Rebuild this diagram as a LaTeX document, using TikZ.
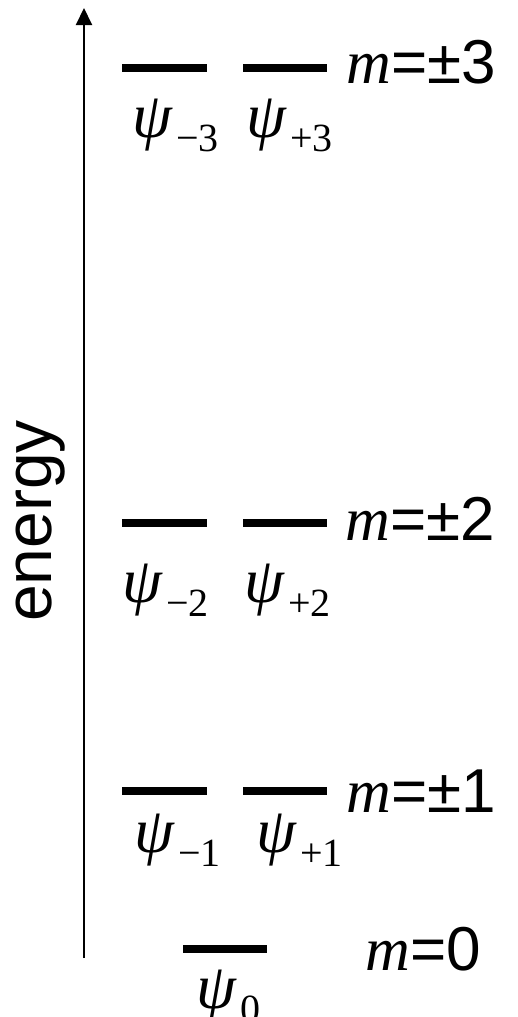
\documentclass[tikz,border=0pt]{standalone}
\usepackage{fontspec}
\setmainfont{Liberation Sans}
\newfontfamily\serif{Liberation Serif}
\usetikzlibrary{arrows.meta}
\tikzset{
  level bar/.style={line width=4pt},
  wf label/.style={
    anchor=base west, inner sep=0pt,
    font=\fontsize{32}{32}\selectfont
  },
  m label/.style={
    anchor=base west, inner sep=0pt,
    font=\fontsize{31}{31}\selectfont
  },
  axis arrow/.style={
    line width=1pt, -{Triangle[width=8pt,length=8.5pt]}
  }
}
\newcommand{\wfn}[1]{{\serif\itshape ψ}\kern2pt\raisebox{-7pt}{\serif\fontsize{20}{20}\selectfont #1}}
\newcommand{\mval}[1]{{\serif\itshape m}=#1}

\begin{document}
\begin{tikzpicture}[x=0.5pt, y=-0.5pt]
  \useasboundingbox (0,0) rectangle (518,1017);

  % energy axis
  \coordinate (axis base) at (84,958);
  \coordinate (axis top) at (84,8);
  \draw [axis arrow] (axis base) -- (axis top);
  \node (energy) [rotate=90, font=\fontsize{33}{33}\selectfont] at (41,521) {energy};

  % m = +-3
  \draw [level bar] (122,68) -- (207,68);
  \draw [level bar] (243,68) -- (327,68);
  \node (wm3) [wf label] at (132,137) {\wfn{−3}};
  \node (wp3) [wf label] at (246,137) {\wfn{+3}};
  \node (m3) [m label] at (346,83) {\mval{±3}};

  % m = +-2
  \draw [level bar] (122,523) -- (207,523);
  \draw [level bar] (243,523) -- (327,523);
  \node (wm2) [wf label] at (122,602) {\wfn{−2}};
  \node (wp2) [wf label] at (244,602) {\wfn{+2}};
  \node (m2) [m label] at (345,540) {\mval{±2}};

  % m = +-1
  \draw [level bar] (122,791) -- (207,791);
  \draw [level bar] (243,791) -- (327,791);
  \node (wm1) [wf label] at (134,852) {\wfn{−1}};
  \node (wp1) [wf label] at (256,852) {\wfn{+1}};
  \node (m1) [m label] at (346,812) {\mval{±1}};

  % m = 0
  \draw [level bar] (183,949) -- (267,949);
  \node (w0) [wf label] at (196,1008) {\wfn{0}};
  \node (m0) [m label] at (365,970) {\mval{0}};
\end{tikzpicture}
\end{document}
